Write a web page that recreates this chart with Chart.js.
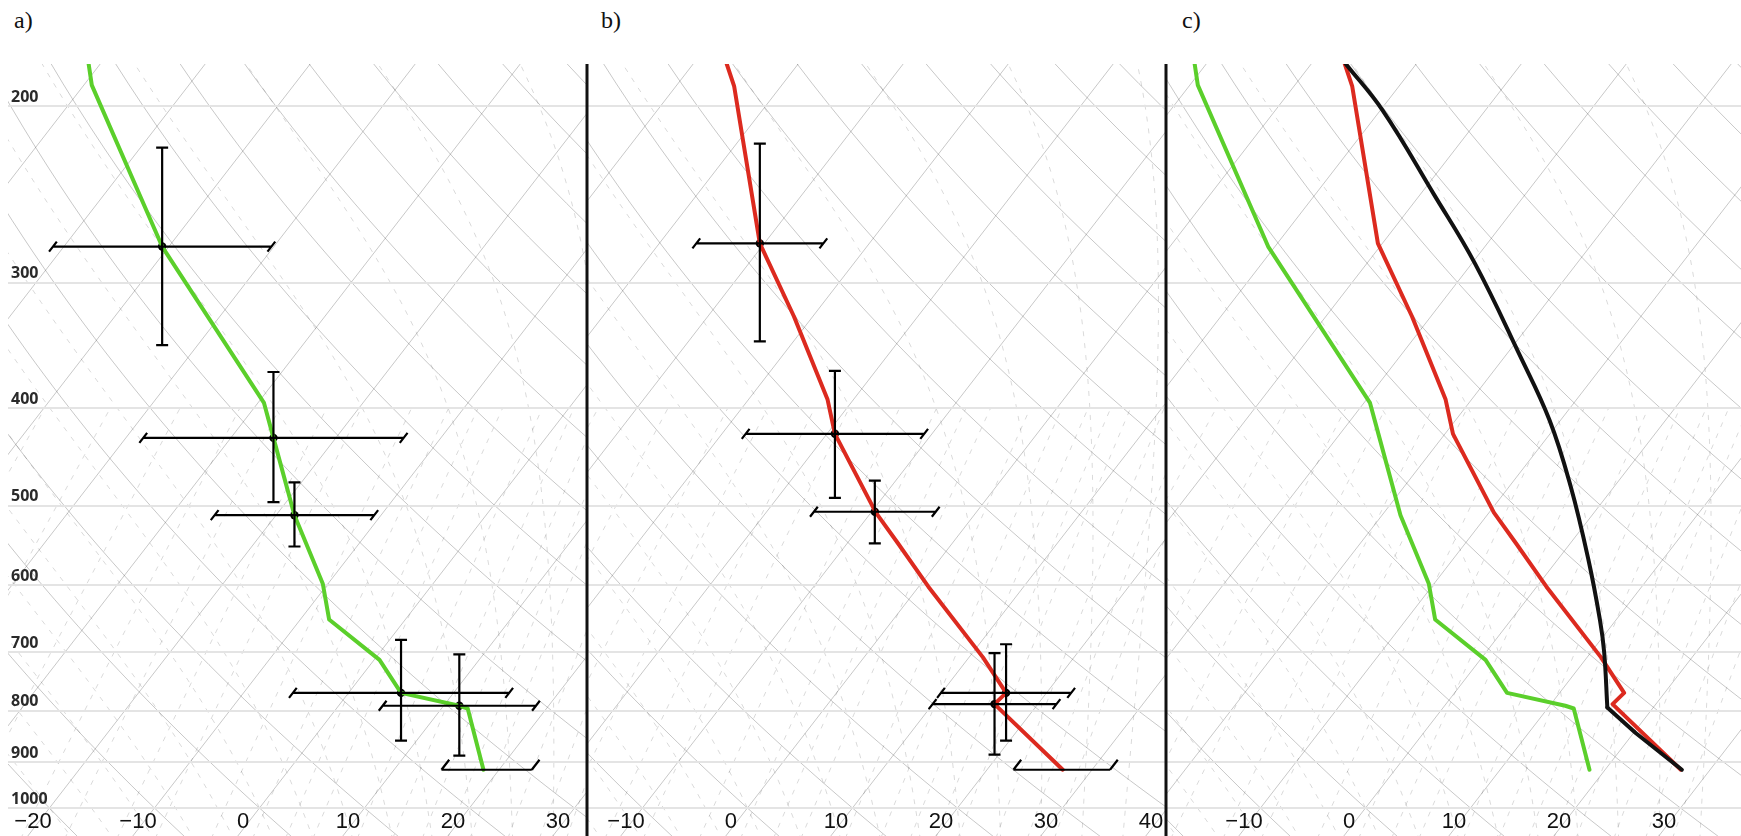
<!DOCTYPE html>
<html>
<head>
<meta charset="utf-8">
<title>Skew-T panels</title>
<script src="https://cdn.jsdelivr.net/npm/chart.js@4.4.1/dist/chart.umd.min.js"></script>
<style>
  html, body { margin: 0; padding: 0; background: #fff; }
  body { position: relative; width: 1741px; height: 836px; overflow: hidden; }
  canvas { position: absolute; top: 0; }
  .tag { position: absolute; top: 8px; font: 24px/24px "Liberation Serif", "Times New Roman", serif; color: #111; }
</style>
</head>
<body>
<div class="tag" style="left:14px">a)</div>
<div class="tag" style="left:601px">b)</div>
<div class="tag" style="left:1182px">c)</div>
<canvas id="panelA" width="587" height="836" style="left:0"></canvas>
<canvas id="panelC" width="575" height="836" style="left:1166px"></canvas>
<canvas id="panelB" width="592" height="836" style="left:580px; z-index:2"></canvas>
<script>
// x values are positions on the skewed temperature axis (deg C as labelled along the bottom),
// y values are pressure in hPa

// pressure labels on the left
const isobarTicks = [200, 300, 400, 500, 600, 700, 800, 900, 1000];

// green profile
const dewP = [181.6, 190.6, 276, 395, 428, 511, 598, 649, 712, 768, 791, 796, 916];
const dewX = [-14.7, -14.4, -7.7, 2.0, 2.9, 4.9, 7.6, 8.2, 13.0, 15.05, 20.6, 21.4, 22.9];

// red profile
const tempP = [181.6, 191, 274, 324, 392, 424, 508, 545, 602, 708, 768, 788, 916];
const tempX = [-0.4, 0.3, 2.75, 6.0, 9.2, 9.9, 13.8, 15.9, 18.8, 24.0, 26.2, 25.1, 31.6];

// black curve (panel c): smooth part down to the kink, then straight to the surface
const parcelP = [181.6, 202, 245, 287, 353, 411, 478, 566, 650, 700, 794, 842, 916];
const parcelX = [-0.3, 3.2, 8.1, 12.0, 16.2, 19.1, 21.1, 22.8, 23.9, 24.3, 24.6, 27.3, 31.7];
const parcelKink = 10;   // index of the sharp corner

// error crosses on the green profile (panel a)
const dewObsP = [276, 428, 511, 768, 791];
const dewObsX = [-7.7, 2.9, 4.9, 15.05, 20.6];
const dewObsErr = [10.4, 12.4, 7.6, 10.3, 7.3];
const dewObsTop = [220, 368, 474, 680, 703];
const dewObsBot = [346, 496, 549, 857, 887];
const dewSfc = { p: 916, x: 23.2, err: 4.3 };

// error crosses on the red profile (panel b)
const tempObsP = [274, 424, 507, 768, 788];
const tempObsX = [2.75, 9.9, 13.7, 26.2, 25.1];
const tempObsErr = [6.05, 8.5, 5.8, 6.2, 5.9];
const tempObsTop = [218, 367, 472, 687, 701];
const tempObsBot = [343, 491, 545, 857, 885];
const tempSfc = { p: 916, x: 31.5, err: 4.6 };

// skew-T geometry
const SKEW = 32.14;   // x-axis degC per unit of ln(p) along an isotherm
const P_REF = 1050;   // pressure at which the x labels apply
const skewX = (t, p) => t + SKEW * Math.log(P_REF / p);

const GREEN = '#5bcf2b';
const RED = '#dc2a1f';
const BLACK = '#111111';

function moistRate(T, p) {
  const tc = T - 273.15;
  const es = 6.112 * Math.exp(17.67 * tc / (tc + 243.5));
  const rs = 0.622 * es / (p - es);
  return (287.04 * T + 2.501e6 * rs) / (1005.7 + 2.501e6 * 2.501e6 * rs * 0.622 / (287.04 * T * T));
}

function moistAdiabat(tw) {
  const up = [], down = [];
  let T = tw + 273.15, lp = Math.log(1000);
  while (lp > Math.log(150)) {
    up.push([T - 273.15, Math.exp(lp)]);
    T -= moistRate(T, Math.exp(lp)) * 0.02;
    lp -= 0.02;
  }
  T = tw + 273.15; lp = Math.log(1000);
  while (lp < Math.log(1100)) {
    T += moistRate(T, Math.exp(lp)) * 0.02;
    lp += 0.02;
    down.push([T - 273.15, Math.exp(lp)]);
  }
  return down.reverse().concat(up);
}

function mixingLine(w) {
  const out = [];
  for (let p = 1100; p >= 400; p -= 25) {
    const es = (w / 1000) * p / (0.622 + w / 1000);
    const L = Math.log(es / 6.112);
    out.push([243.5 * L / (17.67 - L), p]);
  }
  return out;
}

// thermodynamic background lines
const skewBackground = {
  id: 'skewBackground',
  beforeDraw(chart) {
    const { ctx, chartArea: a, scales: { x, y } } = chart;
    const path = (pts) => {
      ctx.beginPath();
      pts.forEach(([t, p], i) => {
        const px = x.getPixelForValue(skewX(t, p)), py = y.getPixelForValue(p);
        if (i) ctx.lineTo(px, py); else ctx.moveTo(px, py);
      });
      ctx.stroke();
    };
    ctx.save();
    ctx.beginPath();
    ctx.rect(a.left, a.top, a.right - a.left, chart.height - a.top);
    ctx.clip();

    // dashed moist adiabats and mixing ratio lines
    ctx.setLineDash([5, 7]);
    ctx.strokeStyle = 'rgba(0,0,0,0.15)';
    ctx.lineWidth = 1;
    for (let tw = -20; tw <= 36; tw += 4) path(moistAdiabat(tw));
    [0.1, 0.2, 0.4, 0.7, 1, 1.5, 2, 3, 4, 5, 6, 8, 10, 12, 14, 16, 20, 24, 28].forEach(w => path(mixingLine(w)));

    // isotherms and dry adiabats
    ctx.setLineDash([]);
    ctx.strokeStyle = 'rgba(0,0,0,0.22)';
    for (let t = -130; t <= 50; t += 10) path([[t, 1100], [t, 150]]);
    for (let th = -30; th <= 200; th += 10) {
      const pts = [];
      for (let p = 1100; p >= 150; p -= 10) pts.push([(th + 273.15) * Math.pow(p / 1000, 0.2857) - 273.15, p]);
      path(pts);
    }
    ctx.restore();
  }
};

// black panel dividers, drawn by the middle panel
const dividers = {
  id: 'dividers',
  afterDraw(chart) {
    const { ctx, chartArea: a } = chart;
    ctx.save();
    ctx.strokeStyle = BLACK;
    ctx.lineWidth = 3;
    ctx.beginPath();
    [a.left, a.right].forEach(xp => { ctx.moveTo(xp, a.top); ctx.lineTo(xp, chart.height); });
    ctx.stroke();
    ctx.restore();
  }
};

function errorBars(obs) {
  return {
    id: 'errorBars',
    afterDatasetsDraw(chart) {
      const { ctx, scales: { x, y } } = chart;
      const lnPx = (y.getPixelForValue(1000) - y.getPixelForValue(200)) / Math.log(5);
      const d = 5 / lnPx;
      const px = (X, p) => [x.getPixelForValue(X), y.getPixelForValue(p)];
      const seg = (u, v) => { ctx.moveTo(u[0], u[1]); ctx.lineTo(v[0], v[1]); };
      ctx.save();
      ctx.strokeStyle = '#000';
      ctx.lineWidth = 2.2;
      ctx.beginPath();
      obs.x.forEach((X, i) => {
        const p = obs.p[i], e = obs.err[i];
        seg(px(X - e, p), px(X + e, p));
        [X - e, X + e].forEach(xe => seg(px(xe - SKEW * d, p * Math.exp(d)), px(xe + SKEW * d, p * Math.exp(-d))));
        seg(px(X, obs.top[i]), px(X, obs.bot[i]));
        [obs.top[i], obs.bot[i]].forEach(pe => {
          const c = px(X, pe);
          ctx.moveTo(c[0] - 6, c[1]);
          ctx.lineTo(c[0] + 6, c[1]);
        });
      });
      const s = obs.sfc;
      seg(px(s.x - s.err, s.p), px(s.x + s.err, s.p));
      [s.x - s.err, s.x + s.err].forEach(xe => seg(px(xe, s.p), px(xe + SKEW * 2 * d, s.p * Math.exp(-2 * d))));
      ctx.stroke();
      ctx.restore();
    }
  };
}

const pts = (xs, ps) => xs.map((v, i) => ({ x: v, y: ps[i] }));
const lineSet = (xs, ps, color, tension = 0) => ({
  data: pts(xs, ps), showLine: true, borderColor: color, borderWidth: 4,
  pointRadius: 0, tension, borderJoinStyle: 'round', borderCapStyle: 'round'
});
const dotSet = (xs, ps) => ({
  data: pts(xs, ps), showLine: false, pointRadius: 4.2,
  pointBackgroundColor: '#000', pointBorderWidth: 0
});

function makePanel(id, xMin, xMax, padding, showP, datasets, plugins) {
  return new Chart(document.getElementById(id), {
    type: 'scatter',
    data: { datasets },
    options: {
      responsive: false,
      animation: false,
      events: [],
      layout: { padding, autoPadding: false },
      plugins: { legend: { display: false }, tooltip: { enabled: false } },
      scales: {
        x: {
          type: 'linear', min: xMin, max: xMax,
          grid: { display: false, drawTicks: false },
          border: { display: false },
          ticks: {
            stepSize: 10, includeBounds: false, padding: 0.8, maxRotation: 0, autoSkip: false,
            color: '#111', font: { family: "'Liberation Sans', Arial, sans-serif", size: 22 },
            callback: v => (v < 0 ? '\u2212' + Math.abs(v) : String(v))
          }
        },
        y: {
          type: 'logarithmic', reverse: true, min: 181.6, max: 1000,
          afterBuildTicks: s => { s.ticks = isobarTicks.map(v => ({ value: v })); },
          grid: { color: '#e4e4e4', lineWidth: 2, drawTicks: false },
          border: { display: false },
          ticks: {
            display: showP, mirror: true, padding: 3, labelOffset: -9,
            color: '#2a2a2a', font: { family: "'Open Sans', 'DejaVu Sans', sans-serif", size: 16, weight: 'bold' },
            callback: v => String(v)
          }
        }
      }
    },
    plugins: [skewBackground].concat(plugins)
  });
}

makePanel('panelA', -22.38, 32.76, { top: 64, left: 2, right: 0, bottom: 0 }, true,
  [lineSet(dewX, dewP, GREEN), dotSet(dewObsX, dewObsP)],
  [errorBars({ x: dewObsX, p: dewObsP, err: dewObsErr, top: dewObsTop, bot: dewObsBot, sfc: dewSfc })]);

makePanel('panelB', -13.71, 41.43, { top: 64, left: 7, right: 6, bottom: 0 }, false,
  [lineSet(tempX, tempP, RED), dotSet(tempObsX, tempObsP)],
  [errorBars({ x: tempObsX, p: tempObsP, err: tempObsErr, top: tempObsTop, bot: tempObsBot, sfc: tempSfc }), dividers]);

makePanel('panelC', -17.43, 37.33, { top: 64, left: 0, right: 0, bottom: 0 }, false,
  [lineSet(dewX, dewP, GREEN),
   lineSet(parcelX.slice(0, parcelKink + 1), parcelP.slice(0, parcelKink + 1), BLACK, 0.4),
   lineSet(parcelX.slice(parcelKink), parcelP.slice(parcelKink), BLACK),
   lineSet(tempX, tempP, RED)],
  []);
</script>
</body>
</html>
